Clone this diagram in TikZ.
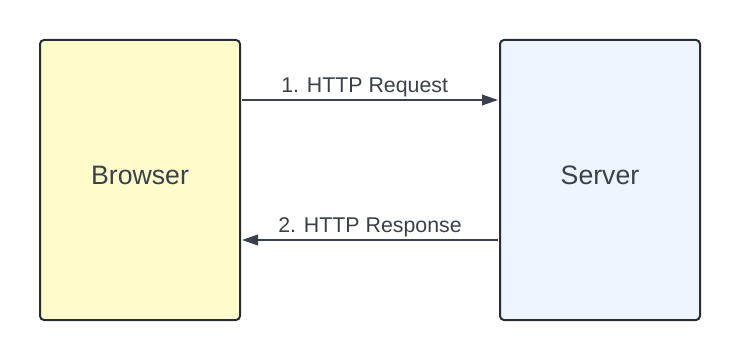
\documentclass[tikz,border=0pt]{standalone}
\usepackage{fontspec}
\setmainfont{Liberation Sans}
\usetikzlibrary{arrows.meta}
\definecolor{edge}{HTML}{282C33}
\definecolor{txt}{HTML}{3A414A}
\definecolor{yell}{HTML}{FFFCCC}
\definecolor{blu}{HTML}{EDF5FF}
\begin{document}
\begin{tikzpicture}[x=0.75pt,y=-0.75pt,
  boxstyle/.style={draw=edge,line width=1.5pt,rounded corners=3pt,minimum width=150pt,minimum height=210pt,inner sep=0pt},
  boxtext/.style={text=txt,font=\fontsize{20}{24}\selectfont,inner sep=0pt},
  conn/.style={draw=txt,line width=1.1pt,-{Triangle[length=12pt,width=8pt]}},
  lab/.style={text=txt,font=\fontsize{16}{19}\selectfont,above,inner sep=1.5pt}]
\useasboundingbox (0,0) rectangle (740,360);
\node[boxstyle,fill=yell] (browser) at (140,180) {};
\node[boxstyle,fill=blu] (server) at (600,180) {};
\node[boxtext] (browsertxt) at (140,175) {Browser};
\node[boxtext] (servertxt) at (600,175) {Server};
\coordinate (b1) at (240,100);
\coordinate (s1) at (500,100);
\coordinate (b2) at (240,240);
\coordinate (s2) at (500,240);
\draw[conn] ([xshift=0.75pt]browser.east |- b1) -- node[lab,xshift=-4pt]{1. HTTP Request} ([xshift=-0.75pt]server.west |- s1);
\draw[conn] ([xshift=-0.75pt]server.west |- s2) -- node[lab]{2. HTTP Response} ([xshift=0.75pt]browser.east |- b2);
\end{tikzpicture}
\end{document}
